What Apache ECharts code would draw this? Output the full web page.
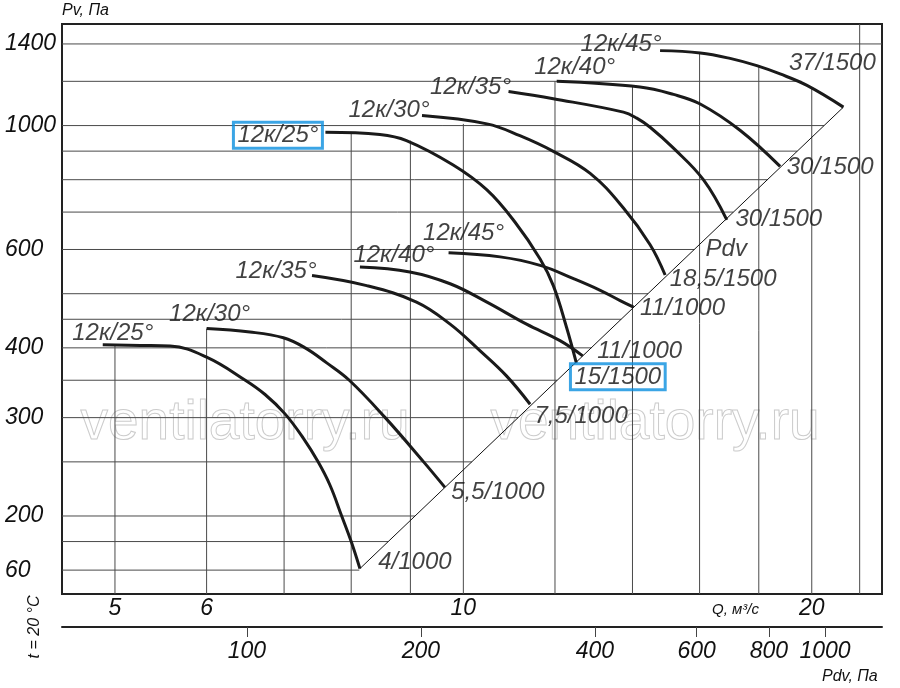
<!DOCTYPE html>
<html>
<head>
<meta charset="utf-8">
<script src="https://cdn.jsdelivr.net/npm/echarts@6.0.0/dist/echarts.min.js"></script>
<style>
html, body { margin: 0; padding: 0; background: #fff; }
#chart { width: 900px; height: 688px; }
</style>
</head>
<body>
<div id="chart"></div>
<script>
// axis ranges (log axes)
var qMin = 4.5, qMax = 23.0;
var pMin = 145, pMax = 1520;
var pdvMin = 47.9, pdvMax = 1255;

// tick labels
var qTicks = [5, 6, 10, 20];
var pdvTicks = [100, 200, 400, 600, 800, 1000];
var pTicks = [160, 200, 300, 400, 600, 1000, 1400];

// grid lines: vertical ones stop at the upper curve, horizontal ones at the Pdv line
var qGrid = [5, 6, 7, 8, 9, 10, 12, 14, 16, 18, 20, 22];
var qGridTop = [404, 433, 417, 970, 940, 1007, 1200, 1173, 1349, 1276, 1170, 1520];
var pGrid = [160, 180, 200, 250, 300, 350, 400, 450, 500, 600, 700, 800, 900, 1000, 1200, 1400];
var pGridEnd = [8.13, 8.61, 9.08, 10.17, 11.15, 12.05, 12.90, 13.69, 14.44, 15.83, 17.11, 18.31, 19.43, 20.49, 19.6, 23.0];

// 1000 rpm curves (Q m3/s, Pv Pa)
var q25L = [4.88, 5.26, 5.58, 6.00, 6.48, 6.74, 7.01, 7.27, 7.49, 7.67, 7.85, 8.00, 8.14];
var p25L = [405, 404, 403, 385, 350, 330, 305, 276, 250, 227, 200, 180, 161];
var q30L = [6.00, 6.54, 6.99, 7.30, 7.62, 7.97, 8.56, 9.24, 9.64];
var p30L = [433, 427, 417, 400, 376, 350, 300, 250, 225];
var q35L = [7.40, 8.25, 9.11, 9.74, 10.34, 10.90, 11.42];
var p35L = [539, 517, 483, 441, 395, 356, 317];
var q40L = [8.14, 8.99, 9.74, 10.48, 11.34, 12.12, 12.68];
var p40L = [558, 547, 521, 483, 441, 412, 387];
var q45L = [9.71, 10.76, 11.65, 12.45, 13.13, 13.66, 14.03];
var p45L = [592, 582, 562, 532, 507, 486, 473];

// 1500 rpm curves
var q25H = [7.60, 8.47, 8.93, 9.80, 10.48, 11.08, 11.65, 11.96, 12.28, 12.52];
var p25H = [973, 964, 940, 850, 767, 672, 577, 517, 435, 376];
var q30H = [9.21, 10.48, 11.19, 11.96, 12.87, 13.75, 14.50, 14.94];
var p30H = [1042, 1007, 959, 899, 821, 712, 612, 540];
var q35H = [10.94, 11.96, 13.75, 14.12, 14.50, 15.19, 16.12, 16.89];
var p35H = [1151, 1117, 1057, 1031, 993, 911, 800, 678];
var q40H = [12.04, 14.21, 15.19, 16.02, 17.35, 18.78];
var p40H = [1200, 1172, 1137, 1093, 980, 845];
var q45H = [14.79, 16.02, 17.00, 17.93, 18.78, 19.81, 21.30];
var p45H = [1362, 1349, 1319, 1280, 1237, 1180, 1079];

// Pdv line
var qPdv = [8.14, 21.30];
var pPdv = [161, 1079];
var pdvLabelAt = [16.87, 600];

var FONT = 'Liberation Sans';
var INK = '#111';

function pairs(q, p) {
    return q.map(function (v, i) { return [v, p[i]]; });
}

var curves = [
    {q: q25L, p: p25L, start: '12к/25°', end: '4/1000', so: [10, -12], eo: [55, -6]},
    {q: q30L, p: p30L, start: '12к/30°', end: '5,5/1000', so: [3, -14], eo: [53, 5]},
    {q: q35L, p: p35L, start: '12к/35°', end: '7,5/1000', so: [-36, -4], eo: [51, 12]},
    {q: q40L, p: p40L, start: '12к/40°', end: '11/1000', so: [34, -12], eo: [57, -5]},
    {q: q45L, p: p45L, start: '12к/45°', end: '11/1000', so: [15, -19], eo: [49, 1]},
    {q: q25H, p: p25H, start: '12к/25°', end: '15/1500', so: [-47.5, 3], eo: [41.5, 14], box: true},
    {q: q30H, p: p30H, start: '12к/30°', end: '18,5/1500', so: [-33, -5], eo: [58, 4]},
    {q: q35H, p: p35H, start: '12к/35°', end: '30/1500', so: [-38, -4], eo: [52, -1]},
    {q: q40H, p: p40H, start: '12к/40°', end: '30/1500', so: [18, -14], eo: [50, 1]},
    {q: q45H, p: p45H, start: '12к/45°', end: '37/1500', so: [-39, -6], eo: [-11, -44]}
];

var series = [];

// grid lines
qGrid.forEach(function (q, i) {
    series.push({
        type: 'line', silent: true, symbol: 'none', z: 1,
        data: [[q, pMin], [q, qGridTop[i]]],
        lineStyle: {color: '#4a4a4a', width: 1}
    });
});
pGrid.forEach(function (p, i) {
    series.push({
        type: 'line', silent: true, symbol: 'none', z: 1,
        data: [[qMin, p], [pGridEnd[i], p]],
        lineStyle: {color: '#4a4a4a', width: 1}
    });
});

// Pdv line
series.push({
    type: 'line', silent: true, symbol: 'none', z: 2,
    data: pairs(qPdv, pPdv),
    lineStyle: {color: INK, width: 1}
});

// fan curves
curves.forEach(function (c) {
    series.push({
        type: 'line', symbol: 'none', z: 3,
        smooth: 0.4,
        data: pairs(c.q, c.p),
        lineStyle: {color: '#1a1a1a', width: 3}
    });
});

// curve labels
var labelData = [];
function addLabel(q, p, text, off, box, size) {
    var lab = {
        show: true, position: 'inside', formatter: text, offset: off,
        fontFamily: FONT, fontStyle: 'italic', fontSize: size || 24, color: INK
    };
    if (box) {
        lab.borderColor = '#0a8ede';
        lab.borderWidth = 3;
        lab.padding = [1, 4, 1, 4];
    }
    labelData.push({value: [q, p], label: lab});
}
curves.forEach(function (c) {
    var n = c.q.length - 1;
    addLabel(c.q[0], c.p[0], c.start, c.so, c.box);
    addLabel(c.q[n], c.p[n], c.end, c.eo, c.box);
});
addLabel(pdvLabelAt[0], pdvLabelAt[1], 'Pdv', [0, 0], false, 24);

series.push({
    type: 'scatter', silent: true, z: 5,
    symbolSize: 1,
    itemStyle: {color: 'transparent'},
    data: labelData
});

var labelFont = {fontFamily: FONT, fontStyle: 'italic', fontSize: 23, color: INK};

var option = {
    animation: false,
    backgroundColor: '#fff',
    grid: {
        left: 62, top: 24, width: 820, height: 570,
        show: true, borderColor: '#222', borderWidth: 2, backgroundColor: 'transparent'
    },
    xAxis: [
        {
            type: 'log', logBase: 10, min: qMin, max: qMax, position: 'bottom',
            axisLine: {show: true, onZero: false, lineStyle: {color: '#222', width: 2}},
            axisTick: {show: false},
            splitLine: {show: false},
            axisLabel: Object.assign({
                customValues: qTicks, margin: 3,
                formatter: function (v) { return String(Math.round(v)); }
            }, labelFont)
        },
        {
            type: 'log', logBase: 10, min: pdvMin, max: pdvMax, position: 'bottom', offset: 33,
            axisLine: {show: true, onZero: false, lineStyle: {color: '#222', width: 2}},
            axisTick: {show: true, customValues: pdvTicks, length: 10, lineStyle: {color: '#444', width: 1}},
            splitLine: {show: false},
            axisLabel: Object.assign({
                customValues: pdvTicks, margin: 13,
                formatter: function (v) { return String(Math.round(v)); }
            }, labelFont)
        }
    ],
    yAxis: {
        type: 'log', logBase: 10, min: pMin, max: pMax,
        axisLine: {show: true, onZero: false, lineStyle: {color: '#222', width: 2}},
        axisTick: {show: false},
        splitLine: {show: false},
        axisLabel: Object.assign({
            customValues: pTicks, margin: 57, align: 'left',
            formatter: function (v) {
                var r = Math.round(v);
                return r === 160 ? '60' : String(r);
            }
        }, labelFont)
    },
    graphic: [
        {type: 'text', x: 62, y: 3, style: {text: 'Pv, Па', font: 'italic 16px "Liberation Sans"', fill: INK}},
        {type: 'text', x: 712, y: 602, style: {text: 'Q, м³/с', font: 'italic 15px "Liberation Sans"', fill: INK}},
        {type: 'text', x: 822, y: 669, style: {text: 'Pdv, Па', font: 'italic 16px "Liberation Sans"', fill: INK}},
        {type: 'text', x: 35, y: 627, rotation: Math.PI / 2,
            style: {text: 't = 20 °C', font: 'italic 16px "Liberation Sans"', fill: INK,
                align: 'center', verticalAlign: 'middle', textAlign: 'center', textVerticalAlign: 'middle'}},
        {type: 'text', x: 245, y: 424, z: 0,
            style: {text: 'ventilatorry.ru', font: '55px "Liberation Sans"', fill: 'transparent', stroke: '#cccccc', lineWidth: 1,
                align: 'center', verticalAlign: 'middle', textAlign: 'center', textVerticalAlign: 'middle'}},
        {type: 'text', x: 655, y: 424, z: 0,
            style: {text: 'ventilatorry.ru', font: '55px "Liberation Sans"', fill: 'transparent', stroke: '#cccccc', lineWidth: 1,
                align: 'center', verticalAlign: 'middle', textAlign: 'center', textVerticalAlign: 'middle'}}
    ],
    series: series
};

var myChart = echarts.init(document.getElementById('chart'));
myChart.setOption(option, true);
</script>
</body>
</html>
